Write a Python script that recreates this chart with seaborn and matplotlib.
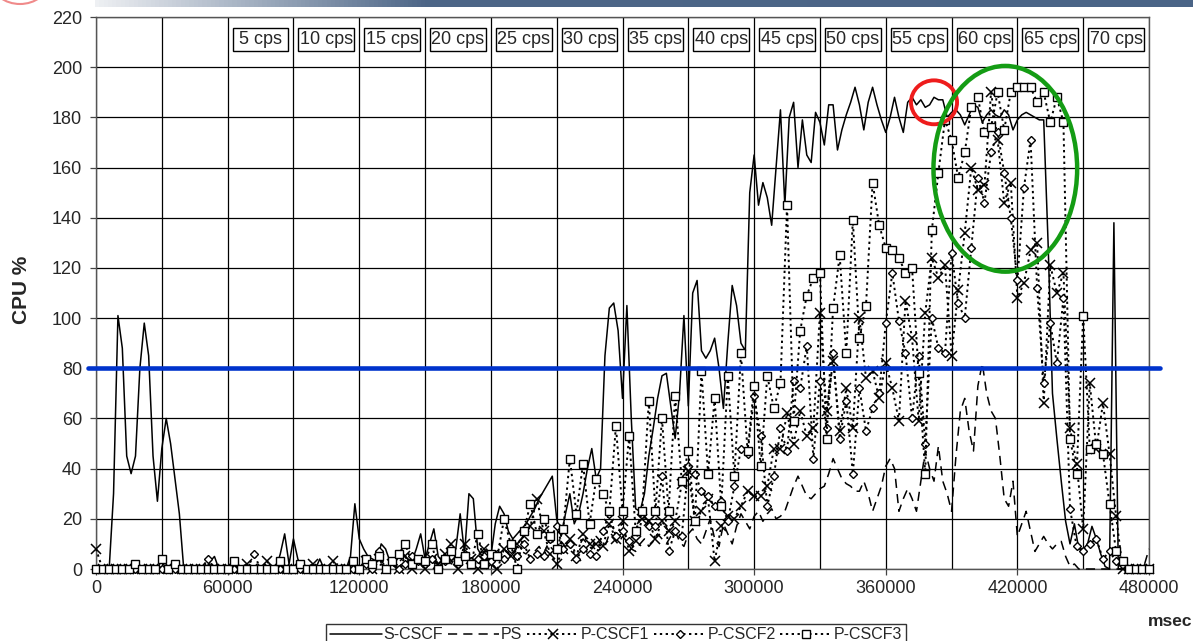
import numpy as np
import seaborn as sns
import matplotlib.pyplot as plt
from matplotlib.patches import Ellipse, Rectangle
from matplotlib.colors import LinearSegmentedColormap

# sample times in msec: S-CSCF and PS logged every 2 s, the P-CSCFs every 3 s
t_fast = np.arange(0, 480001, 2000)
t_slow = np.arange(0, 480001, 3000)

s_cscf = [
    0, 0, 0, 0, 30, 101, 88, 45, 38, 45,
    80, 98, 85, 45, 27, 48, 60, 50, 36, 22,
    0, 0, 0, 0, 0, 0, 3, 5, 0, 0,
    0, 0, 0, 0, 0, 0, 0, 0, 0, 0,
    0, 0, 6, 14, 2, 12, 4, 0, 0, 0,
    0, 4, 0, 0, 0, 0, 0, 0, 5, 26,
    12, 8, 5, 4, 3, 10, 8, 3, 2, 5,
    6, 4, 3, 8, 14, 4, 10, 16, 5, 3,
    4, 3, 8, 22, 6, 30, 28, 8, 5, 8,
    5, 18, 25, 22, 15, 12, 14, 16, 18, 21,
    24, 28, 31, 34, 37, 20, 13, 22, 30, 18,
    22, 30, 40, 48, 36, 40, 85, 104, 106, 95,
    68, 105, 60, 24, 23, 30, 45, 56, 68, 77,
    78, 65, 52, 70, 101, 65, 110, 115, 87, 84,
    87, 92, 80, 64, 90, 113, 105, 90, 87, 150,
    165, 145, 154, 148, 137, 160, 183, 145, 180, 186,
    160, 179, 165, 162, 182, 178, 169, 185, 185, 167,
    175, 181, 186, 192, 185, 175, 186, 192, 185, 179,
    174, 180, 188, 180, 174, 186, 188, 185, 187, 184,
    185, 188, 187, 187, 180, 182, 183, 181, 177, 181,
    185, 184, 178, 181, 183, 181, 180, 183, 181, 175,
    179, 181, 182, 181, 180, 179, 179, 130, 70, 52,
    35, 19, 10, 18, 8, 8, 10, 17, 12, 6,
    1, 0, 138, 0, 0, 0, 0, 0, 0, 0,
    0,
]

ps = [
    0, 0, 1, 0, 0, 0, 0, 1, 0, 0,
    0, 0, 0, 1, 0, 0, 0, 0, 0, 0,
    0, 0, 0, 0, 1, 0, 0, 0, 0, 0,
    0, 0, 0, 0, 0, 0, 0, 0, 1, 0,
    0, 0, 0, 0, 0, 1, 0, 0, 0, 0,
    0, 1, 0, 0, 0, 2, 0, 1, 0, 0,
    1, 0, 2, 1, 0, 2, 1, 3, 1, 2,
    2, 3, 1, 2, 4, 2, 3, 5, 2, 3,
    4, 2, 5, 3, 6, 4, 3, 5, 7, 4,
    5, 6, 4, 8, 6, 5, 9, 7, 6, 8,
    7, 9, 6, 10, 8, 7, 11, 9, 8, 10,
    9, 12, 10, 8, 13, 11, 9, 14, 12, 10,
    13, 11, 8, 7, 10, 12, 9, 11, 14, 12,
    10, 13, 15, 11, 9, 14, 16, 12, 10, 15,
    20, 12, 9, 18, 14, 10, 17, 22, 19, 16,
    21, 23, 19, 22, 24, 20, 21, 23, 28, 33,
    37, 33, 29, 28, 30, 32, 33, 38, 44, 40,
    36, 34, 33, 31, 31, 35, 30, 23, 28, 33,
    41, 44, 40, 23, 28, 32, 28, 23, 35, 47,
    40, 35, 49, 35, 30, 23, 45, 63, 68, 55,
    47, 73, 82, 70, 63, 60, 45, 28, 25, 35,
    13, 18, 23, 15, 7, 10, 13, 10, 8, 10,
    11, 5, 1, 2, 0, 0, 0, 0, 0, 0,
    0, 0, 0, 0, 0, 0, 0, 0, 0, 2,
    8,
]

p_cscf1 = [
    8, 0, 0, 0, 0, 0, 0, 0, 0, 0,
    0, 0, 0, 0, 0, 0, 0, 0, 0, 0,
    0, 0, 0, 2, 0, 0, 3, 0, 0, 0,
    0, 0, 0, 2, 0, 0, 3, 0, 0, 0,
    0, 3, 0, 4, 0, 2, 0, 5, 0, 3,
    0, 4, 2, 6, 10, 0, 10, 4, 0, 8,
    2, 0, 8, 5, 10, 13, 17, 28, 15, 6,
    2, 8, 12, 5, 14, 10, 10, 9, 18, 12,
    19, 7, 11, 20, 19, 12, 19, 15, 19, 34,
    39, 19, 23, 28, 3, 17, 21, 20, 25, 31,
    29, 29, 33, 48, 48, 62, 50, 63, 53, 56,
    102, 63, 83, 55, 72, 56, 100, 76, 79, 68,
    82, 72, 59, 107, 92, 59, 102, 124, 116, 121,
    85, 111, 134, 160, 151, 153, 190, 171, 146, 154,
    108, 114, 127, 130, 66, 121, 110, 118, 56, 42,
    16, 74, 48, 66, 46, 21, 0, 0, 0, 0,
    0,
]

p_cscf2 = [
    0, 0, 0, 0, 0, 0, 0, 0, 0, 0,
    0, 0, 0, 0, 0, 0, 0, 4, 0, 0,
    0, 0, 0, 0, 6, 0, 0, 0, 0, 0,
    0, 0, 0, 0, 0, 0, 0, 0, 0, 0,
    0, 2, 0, 7, 0, 3, 0, 2, 5, 3,
    2, 4, 0, 3, 5, 2, 6, 3, 4, 5,
    3, 6, 4, 8, 5, 10, 4, 6, 5, 12,
    17, 8, 10, 4, 8, 6, 5, 15, 22, 13,
    15, 11, 15, 23, 17, 17, 37, 7, 15, 13,
    41, 38, 31, 29, 25, 27, 19, 33, 48, 46,
    69, 53, 25, 37, 56, 47, 75, 72, 89, 44,
    75, 56, 86, 52, 67, 38, 72, 55, 64, 70,
    98, 118, 99, 86, 60, 85, 50, 100, 88, 86,
    126, 106, 100, 128, 156, 146, 166, 174, 158, 140,
    115, 152, 171, 112, 74, 98, 82, 108, 24, 9,
    7, 10, 12, 4, 7, 3, 3, 0, 0, 0,
    0,
]

p_cscf3 = [
    0, 0, 0, 0, 0, 0, 2, 0, 0, 0,
    4, 0, 2, 0, 0, 0, 0, 0, 0, 0,
    0, 3, 0, 0, 0, 0, 0, 0, 3, 0,
    0, 2, 0, 0, 0, 0, 0, 0, 0, 3,
    0, 4, 2, 5, 0, 3, 6, 10, 2, 4,
    3, 10, 0, 4, 7, 3, 5, 2, 14, 2,
    6, 5, 20, 10, 0, 15, 26, 14, 20, 13,
    8, 16, 44, 22, 42, 18, 36, 30, 23, 57,
    23, 53, 15, 23, 67, 23, 60, 23, 69, 35,
    47, 19, 79, 38, 68, 25, 77, 37, 86, 47,
    73, 41, 77, 64, 74, 145, 59, 95, 109, 116,
    118, 52, 104, 125, 86, 139, 92, 105, 154, 137,
    128, 127, 124, 118, 120, 78, 38, 135, 158, 179,
    171, 156, 166, 184, 188, 174, 176, 190, 175, 190,
    192, 192, 192, 186, 190, 178, 188, 178, 52, 38,
    101, 48, 50, 46, 26, 7, 3, 0, 0, 0,
    0,
]

# load steps, one every 30 s from 60 s on
cps_labels = ['5 cps', '10 cps', '15 cps', '20 cps', '25 cps', '30 cps', '35 cps',
              '40 cps', '45 cps', '50 cps', '55 cps', '60 cps', '65 cps', '70 cps']
cps_start = np.arange(60000, 480000, 30000)

cpu_limit = 80

sns.set_style('white')
plt.rcParams['font.family'] = ['Liberation Sans', 'DejaVu Sans']

fig = plt.figure(figsize=(11.93, 6.41), dpi=100)
ax = fig.add_axes([96 / 1193, 72 / 641, 1053 / 1193, 552 / 641])

dot = (0, (1.2, 1.8))
sns.lineplot(x=t_fast, y=s_cscf, ax=ax, color='black', lw=1.1, label='S-CSCF',
             estimator=None, clip_on=False, zorder=3)
sns.lineplot(x=t_fast, y=ps, ax=ax, color='black', lw=1.1, linestyle=(0, (6, 4)),
             label='PS', estimator=None, clip_on=False, zorder=3)
sns.lineplot(x=t_slow, y=p_cscf1, ax=ax, color='black', lw=1.4, linestyle=dot,
             marker='x', markersize=6.5, mec='black', mew=1.1, label='P-CSCF1',
             estimator=None, clip_on=False, zorder=4)
sns.lineplot(x=t_slow, y=p_cscf2, ax=ax, color='black', lw=1.4, linestyle=dot,
             marker='D', markersize=4.3, mfc='white', mec='black', mew=1.0,
             label='P-CSCF2', estimator=None, clip_on=False, zorder=4)
sns.lineplot(x=t_slow, y=p_cscf3, ax=ax, color='black', lw=1.4, linestyle=dot,
             marker='s', markersize=6, mfc='white', mec='black', mew=1.0,
             label='P-CSCF3', estimator=None, clip_on=False, zorder=4)

ax.set_xlim(0, 480000)
ax.set_ylim(0, 220)
ax.set_xticks(np.arange(0, 480001, 60000))
ax.set_xticks(np.arange(30000, 480000, 60000), minor=True)
ax.set_xticklabels([str(v) for v in range(0, 480001, 60000)])
ax.set_yticks(np.arange(0, 221, 20))
ax.grid(which='both', axis='x', color='black', lw=0.9, zorder=1)
ax.grid(which='major', axis='y', color='black', lw=0.9, zorder=1)
ax.tick_params(which='major', direction='out', length=4, width=0.9, color='#444444',
               labelsize=13, left=True, bottom=True)
ax.tick_params(axis='y', pad=6)
ax.tick_params(axis='x', pad=4)
ax.tick_params(which='minor', length=0)
for sp in ax.spines.values():
    sp.set_color('#555555')
    sp.set_linewidth(1)

ax.set_xlabel('')
ax.set_ylabel('')
fig.text(22 / 1193, 1 - 290 / 641, 'CPU %', fontsize=15, fontweight='bold',
         rotation=90, ha='center', va='center')
fig.text(1192 / 1193, 1 - 621 / 641, 'msec', fontsize=12.5, fontweight='bold',
         ha='right', va='center')

# fixed-size label boxes, one per load step
for start, lab in zip(cps_start, cps_labels):
    ax.add_patch(Rectangle((start + 15000 - 12700, 206.4), 25400, 9.2, fc='white',
                           ec='black', lw=1, zorder=6))
    ax.text(start + 15000, 210.9, lab, ha='center', va='center', fontsize=13, zorder=7)

# 80 % CPU threshold, drawn a little past both ends of the plot
ax.plot([-0.0076, 1.0104], [cpu_limit, cpu_limit], color='#0033cc', lw=3.3,
        transform=ax.get_yaxis_transform(), clip_on=False, zorder=7)

ax.add_patch(Ellipse((382000, 186), 21000, 17.5, fill=False, ec='#ee1c1c', lw=2.8,
                     clip_on=False, zorder=8))
ax.add_patch(Ellipse((414500, 159.5), 65500, 82, fill=False, ec='#149c14', lw=3.2,
                     clip_on=False, zorder=8))

leg = ax.legend(loc='upper center', bbox_to_anchor=(616 / 1193, 1 - 624 / 641),
                bbox_transform=fig.transFigure, ncol=5, fontsize=11.5, frameon=True,
                fancybox=False, edgecolor='black', handlelength=3.25, handletextpad=0.1,
                columnspacing=0.3, borderpad=0.2, borderaxespad=0)
leg.get_frame().set_linewidth(1)

# slide header band and logo edge
hdr = fig.add_axes([95 / 1193, 1 - 7 / 641, 1 - 95 / 1193, 7 / 641])
band = LinearSegmentedColormap.from_list('band', [(0, '#eef0f3'), (0.3, '#4d6687'), (1, '#4a6486')])
hdr.imshow(np.linspace(0, 1, 256)[None, :], aspect='auto', cmap=band)
hdr.axis('off')
fig.patches.append(Ellipse((20, 641 + 18), 56, 44, fill=False, ec='#f08a8a', lw=1.5,
                           transform=None, figure=fig))

fig.savefig('out.png', dpi=100)
